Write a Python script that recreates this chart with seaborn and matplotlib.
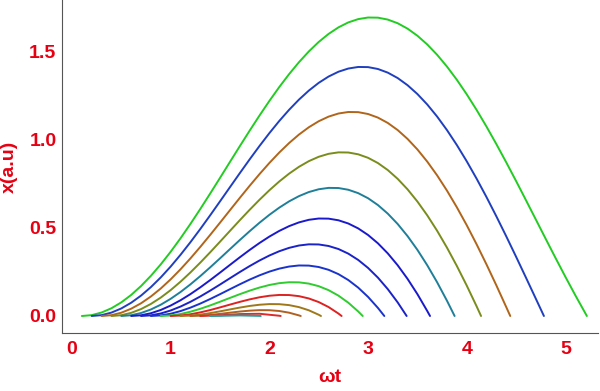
import pandas as pd
import seaborn as sns
import matplotlib.pyplot as plt
from matplotlib.ticker import MultipleLocator

# phase at which each trajectory starts (outermost curve first) and its colour
phase = ["0.1", "0.2", "0.3", "0.4", "0.5", "0.6", "0.7",
         "0.8", "0.9", "1.0", "1.1", "1.2", "1.3", "1.4"]
colors = ["#22cc22", "#1f3fbf", "#b0651a", "#7a8c1c", "#1f7f99", "#1a1acc", "#1a22c8",
          "#1a33cc", "#2ecc2e", "#dd2222", "#a0781a", "#b06020", "#dd2a2a", "#22a0a0"]

# values: wt and x(a.u)
t_01 = [0.1, 0.2, 0.3, 0.4, 0.5, 0.6, 0.7, 0.8, 0.9, 1.0, 1.1, 1.2, 1.3, 1.4, 1.5,
        1.6, 1.7, 1.8, 1.9, 2.0, 2.1, 2.2, 2.3, 2.4, 2.5, 2.6, 2.7, 2.8, 2.9, 3.0,
        3.1, 3.2, 3.3, 3.4, 3.5, 3.6, 3.7, 3.8, 3.9, 4.0, 4.1, 4.2, 4.3, 4.4, 4.5,
        4.6, 4.7, 4.8, 4.9, 5.0, 5.1, 5.2, 5.217]
x_01 = [0.0, 0.0049, 0.0197, 0.0440, 0.0775, 0.1197, 0.1703, 0.2284, 0.2935, 0.3649,
        0.4416, 0.5228, 0.6077, 0.6953, 0.7845, 0.8745, 0.9641, 1.0525, 1.1386, 1.2215,
        1.3002, 1.3739, 1.4417, 1.5028, 1.5566, 1.6023, 1.6395, 1.6677, 1.6864, 1.6955,
        1.6947, 1.6838, 1.6630, 1.6324, 1.5920, 1.5424, 1.4837, 1.4166, 1.3416, 1.2593,
        1.1705, 1.0760, 0.9765, 0.8731, 0.7666, 0.6579, 0.5482, 0.4383, 0.3293, 0.2222,
        0.1179, 0.0173, 0.0]

t_02 = [0.2, 0.3, 0.4, 0.5, 0.6, 0.7, 0.8, 0.9, 1.0, 1.1, 1.2, 1.3, 1.4, 1.5,
        1.6, 1.7, 1.8, 1.9, 2.0, 2.1, 2.2, 2.3, 2.4, 2.5, 2.6, 2.7, 2.8, 2.9, 3.0,
        3.1, 3.2, 3.3, 3.4, 3.5, 3.6, 3.7, 3.8, 3.9, 4.0, 4.1, 4.2, 4.3, 4.4, 4.5,
        4.6, 4.7, 4.782]
x_02 = [0.0, 0.0049, 0.0193, 0.0429, 0.0753, 0.1159, 0.1642, 0.2194, 0.2808, 0.3477,
        0.4190, 0.4940, 0.5717, 0.6511, 0.7311, 0.8109, 0.8894, 0.9656, 1.0386, 1.1075,
        1.1712, 1.2291, 1.2804, 1.3243, 1.3602, 1.3875, 1.4057, 1.4146, 1.4138, 1.4031,
        1.3824, 1.3517, 1.3111, 1.2609, 1.2014, 1.1328, 1.0558, 0.9709, 0.8788, 0.7801,
        0.6757, 0.5663, 0.4530, 0.3366, 0.2181, 0.0984, 0.0]

t_03 = [0.3, 0.4, 0.5, 0.6, 0.7, 0.8, 0.9, 1.0, 1.1, 1.2, 1.3, 1.4, 1.5,
        1.6, 1.7, 1.8, 1.9, 2.0, 2.1, 2.2, 2.3, 2.4, 2.5, 2.6, 2.7, 2.8, 2.9, 3.0,
        3.1, 3.2, 3.3, 3.4, 3.5, 3.6, 3.7, 3.8, 3.9, 4.0, 4.1, 4.2, 4.3, 4.4, 4.441]
x_03 = [0.0, 0.0047, 0.0187, 0.0414, 0.0723, 0.1109, 0.1564, 0.2082, 0.2653, 0.3270,
        0.3923, 0.4603, 0.5300, 0.6004, 0.6705, 0.7393, 0.8058, 0.8691, 0.9283, 0.9824,
        1.0306, 1.0721, 1.1063, 1.1325, 1.1502, 1.1588, 1.1580, 1.1474, 1.1270, 1.0966,
        1.0563, 1.0060, 0.9461, 0.8769, 0.7987, 0.7120, 0.6174, 0.5156, 0.4072, 0.2931,
        0.1741, 0.0510, 0.0]

t_04 = [0.4, 0.5, 0.6, 0.7, 0.8, 0.9, 1.0, 1.1, 1.2, 1.3, 1.4, 1.5,
        1.6, 1.7, 1.8, 1.9, 2.0, 2.1, 2.2, 2.3, 2.4, 2.5, 2.6, 2.7, 2.8, 2.9, 3.0,
        3.1, 3.2, 3.3, 3.4, 3.5, 3.6, 3.7, 3.8, 3.9, 4.0, 4.1, 4.145]
x_04 = [0.0, 0.0045, 0.0178, 0.0394, 0.0686, 0.1047, 0.1471, 0.1949, 0.2472, 0.3031,
        0.3617, 0.4220, 0.4830, 0.5437, 0.6031, 0.6602, 0.7141, 0.7639, 0.8086, 0.8474,
        0.8796, 0.9044, 0.9212, 0.9295, 0.9287, 0.9185, 0.8986, 0.8688, 0.8290, 0.7792,
        0.7196, 0.6503, 0.5717, 0.4841, 0.3880, 0.2840, 0.1728, 0.0550, 0.0]

t_05 = [0.5, 0.6, 0.7, 0.8, 0.9, 1.0, 1.1, 1.2, 1.3, 1.4, 1.5,
        1.6, 1.7, 1.8, 1.9, 2.0, 2.1, 2.2, 2.3, 2.4, 2.5, 2.6, 2.7, 2.8, 2.9, 3.0,
        3.1, 3.2, 3.3, 3.4, 3.5, 3.6, 3.7, 3.8, 3.877]
x_05 = [0.0, 0.0043, 0.0169, 0.0371, 0.0642, 0.0976, 0.1363, 0.1796, 0.2265, 0.2761,
        0.3274, 0.3794, 0.4311, 0.4815, 0.5297, 0.5746, 0.6153, 0.6511, 0.6809, 0.7041,
        0.7199, 0.7277, 0.7269, 0.7171, 0.6979, 0.6690, 0.6302, 0.5814, 0.5227, 0.4540,
        0.3758, 0.2881, 0.1915, 0.0864, 0.0]

t_06 = [0.6, 0.7, 0.8, 0.9, 1.0, 1.1, 1.2, 1.3, 1.4, 1.5,
        1.6, 1.7, 1.8, 1.9, 2.0, 2.1, 2.2, 2.3, 2.4, 2.5, 2.6, 2.7, 2.8, 2.9, 3.0,
        3.1, 3.2, 3.3, 3.4, 3.5, 3.6, 3.628]
x_06 = [0.0, 0.0040, 0.0157, 0.0343, 0.0592, 0.0894, 0.1242, 0.1626, 0.2037, 0.2464,
        0.2899, 0.3331, 0.3750, 0.4146, 0.4510, 0.4832, 0.5104, 0.5317, 0.5464, 0.5537,
        0.5530, 0.5437, 0.5254, 0.4976, 0.4602, 0.4129, 0.3556, 0.2883, 0.2111, 0.1243,
        0.0282, 0.0]

t_07 = [0.7, 0.8, 0.9, 1.0, 1.1, 1.2, 1.3, 1.4, 1.5,
        1.6, 1.7, 1.8, 1.9, 2.0, 2.1, 2.2, 2.3, 2.4, 2.5, 2.6, 2.7, 2.8, 2.9, 3.0,
        3.1, 3.2, 3.3, 3.391]
x_07 = [0.0, 0.0037, 0.0144, 0.0313, 0.0536, 0.0804, 0.1108, 0.1439, 0.1787, 0.2142,
        0.2495, 0.2834, 0.3151, 0.3435, 0.3678, 0.3870, 0.4004, 0.4071, 0.4064, 0.3977,
        0.3805, 0.3542, 0.3185, 0.2731, 0.2179, 0.1526, 0.0774, 0.0]

t_08 = [0.8, 0.9, 1.0, 1.1, 1.2, 1.3, 1.4, 1.5,
        1.6, 1.7, 1.8, 1.9, 2.0, 2.1, 2.2, 2.3, 2.4, 2.5, 2.6, 2.7, 2.8, 2.9, 3.0,
        3.1, 3.165]
x_08 = [0.0, 0.0034, 0.0129, 0.0279, 0.0474, 0.0705, 0.0963, 0.1238, 0.1520, 0.1799,
        0.2066, 0.2309, 0.2520, 0.2690, 0.2809, 0.2870, 0.2863, 0.2783, 0.2624, 0.2378,
        0.2042, 0.1612, 0.1085, 0.0459, 0.0]

t_09 = [0.9, 1.0, 1.1, 1.2, 1.3, 1.4, 1.5, 1.6, 1.7, 1.8, 1.9, 2.0, 2.1, 2.2,
        2.3, 2.4, 2.5, 2.6, 2.7, 2.8, 2.9, 2.946]
x_09 = [0.0, 0.0030, 0.0113, 0.0243, 0.0408, 0.0600, 0.0809, 0.1025, 0.1238, 0.1438,
        0.1616, 0.1761, 0.1865, 0.1918, 0.1912, 0.1840, 0.1694, 0.1468, 0.1157, 0.0755,
        0.0259, 0.0]

t_10 = [1.0, 1.1, 1.2, 1.3, 1.4, 1.5, 1.6, 1.7, 1.8, 1.9, 2.0, 2.1, 2.2,
        2.3, 2.4, 2.5, 2.6, 2.7, 2.732]
x_10 = [0.0, 0.0026, 0.0097, 0.0204, 0.0337, 0.0488, 0.0646, 0.0801, 0.0943, 0.1063,
        0.1150, 0.1195, 0.1190, 0.1127, 0.0996, 0.0792, 0.0508, 0.0139, 0.0]

t_11 = [1.1, 1.2, 1.3, 1.4, 1.5, 1.6, 1.7, 1.8, 1.9, 2.0, 2.1, 2.2,
        2.3, 2.4, 2.5, 2.523]
x_11 = [0.0, 0.0021, 0.0079, 0.0163, 0.0264, 0.0372, 0.0477, 0.0570, 0.0639, 0.0677,
        0.0672, 0.0618, 0.0504, 0.0324, 0.0071, 0.0]

t_12 = [1.2, 1.3, 1.4, 1.5, 1.6, 1.7, 1.8, 1.9, 2.0, 2.1, 2.2, 2.3, 2.318]
x_12 = [0.0, 0.0017, 0.0060, 0.0120, 0.0188, 0.0252, 0.0303, 0.0332, 0.0329, 0.0284,
        0.0188, 0.0034, 0.0]

t_13 = [1.3, 1.5, 1.7, 1.9, 2.1, 2.115]
x_13 = [0.0, 0.0041, 0.0109, 0.0127, 0.0015, 0.0]

t_14 = [1.4, 1.5, 1.7, 1.9, 1.913]
x_14 = [0.0, 0.0007, 0.0032, 0.0005, 0.0]

curves = [(t_01, x_01), (t_02, x_02), (t_03, x_03), (t_04, x_04), (t_05, x_05),
          (t_06, x_06), (t_07, x_07), (t_08, x_08), (t_09, x_09), (t_10, x_10),
          (t_11, x_11), (t_12, x_12), (t_13, x_13), (t_14, x_14)]

frames = []
for p, (t, x) in zip(phase, curves):
    frames.append(pd.DataFrame({"wt": t, "x": x, "phase": p}))
df = pd.concat(frames, ignore_index=True)

sns.set_style("white")
plt.rcParams["font.family"] = ["Liberation Sans", "DejaVu Sans"]
plt.rcParams["font.weight"] = "bold"

red = "#e60012"
gray = "#555555"

fig = plt.figure(figsize=(6, 3.91), dpi=100)
ax = fig.add_axes([62 / 600, 1 - 333 / 391, 536 / 600, 333 / 391])

sns.lineplot(data=df, x="wt", y="x", hue="phase", hue_order=phase,
             palette=dict(zip(phase, colors)), estimator=None, sort=False,
             legend=False, linewidth=1.4, ax=ax)

ax.set_xlim(-0.101, 5.33)
ax.set_ylim(-0.0966, 1.795)

for side in ["top", "right"]:
    ax.spines[side].set_visible(False)
for side in ["left", "bottom"]:
    ax.spines[side].set_color(gray)
    ax.spines[side].set_linewidth(0.8)

ax.xaxis.set_major_locator(MultipleLocator(1))
ax.xaxis.set_minor_locator(MultipleLocator(0.2))
ax.yaxis.set_major_locator(MultipleLocator(0.5))
ax.yaxis.set_minor_locator(MultipleLocator(0.1))
ax.tick_params(which="both", direction="in", color=gray, width=0.8,
               labelcolor=red, labelsize=14)
ax.tick_params(which="major", length=3)
ax.tick_params(which="minor", length=1.7)
ax.tick_params(axis="x", which="major", pad=6)
ax.tick_params(axis="y", which="major", pad=4)

ax.set_xlabel("ωt", color=red, fontsize=14, fontweight="bold", labelpad=8)
ax.set_ylabel("x(a.u)", color=red, fontsize=14, fontweight="bold", labelpad=8)

fig.savefig("out.png", dpi=100)
